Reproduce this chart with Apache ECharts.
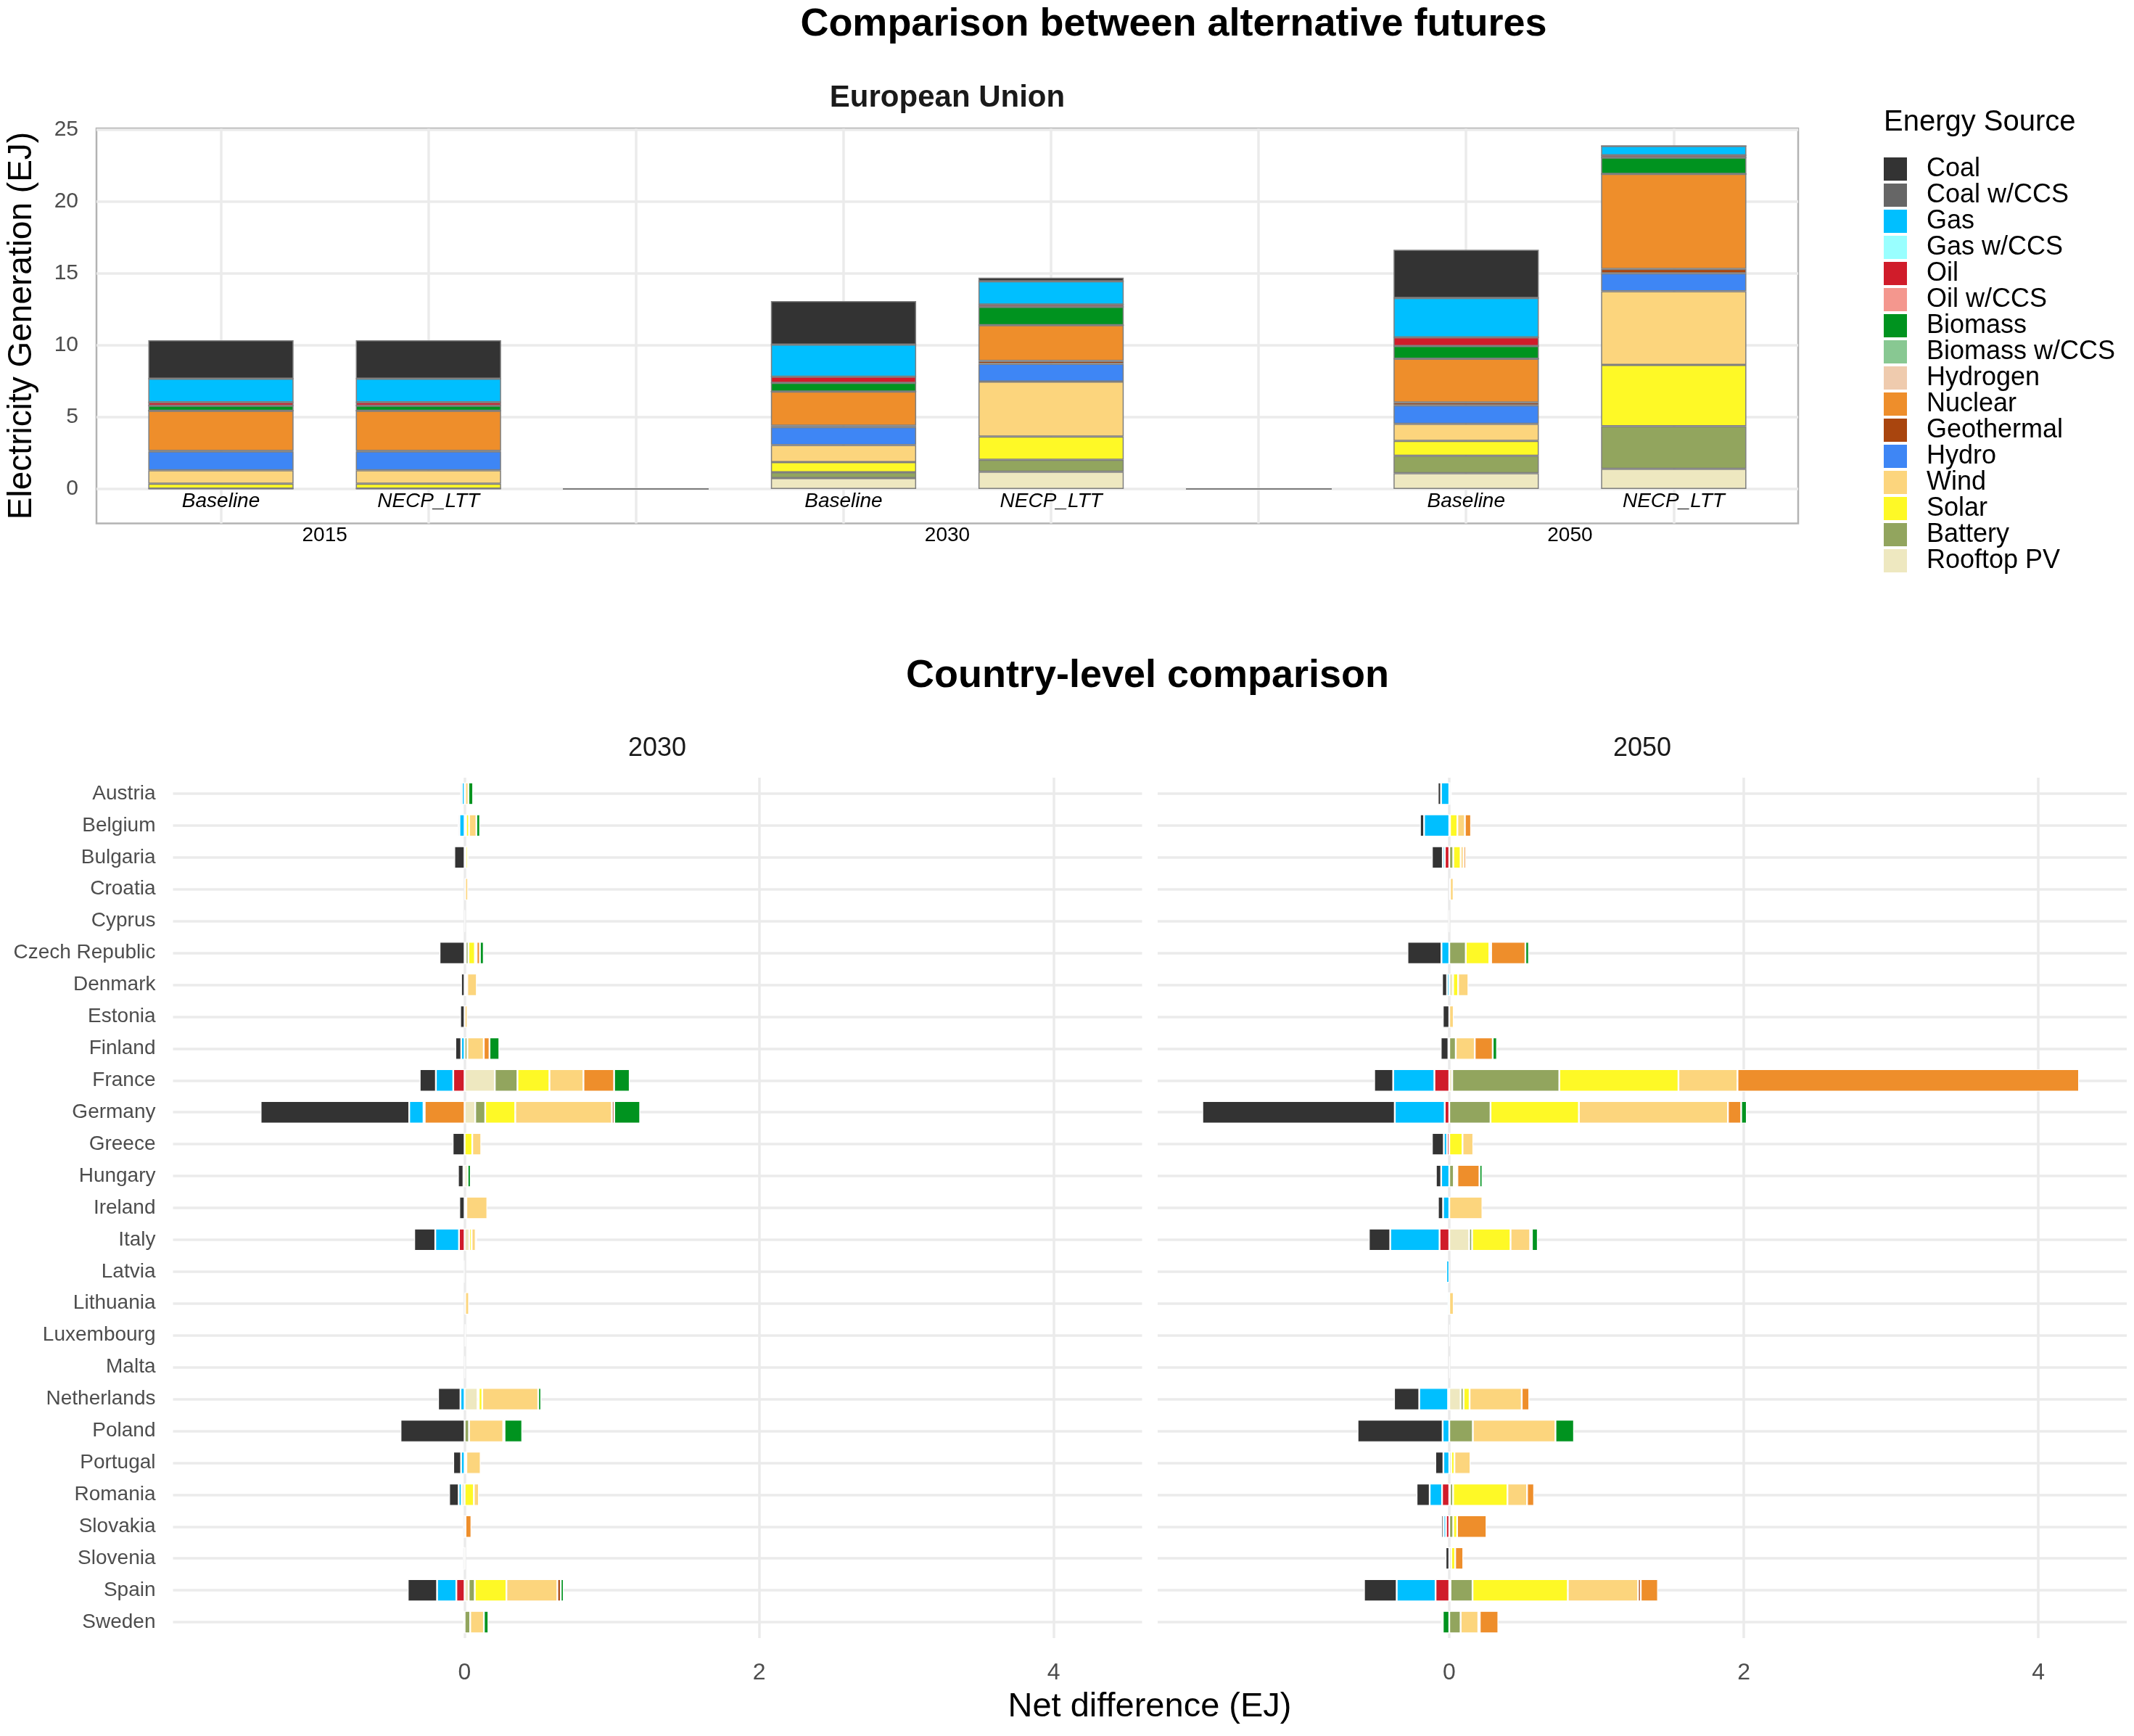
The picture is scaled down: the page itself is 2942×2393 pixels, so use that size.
<!DOCTYPE html>
<html><head><meta charset="utf-8">
<script src="https://cdn.jsdelivr.net/npm/echarts@6/dist/echarts.min.js"></script>
<style>html,body{margin:0;padding:0;background:#fff}#c{width:2942px;height:2393px}</style>
</head><body><div id="c"></div>
<script>
// ---------- text ----------
const mainTitle = 'Comparison between alternative futures';
const topTitle = 'European Union';
const bottomTitle = 'Country-level comparison';
const yTitleTop = 'Electricity Generation (EJ)';
const xTitleBottom = 'Net difference (EJ)';
const legendTitle = 'Energy Source';

// ---------- legend / colours ----------
const sources = ['Coal','Coal w/CCS','Gas','Gas w/CCS','Oil','Oil w/CCS','Biomass','Biomass w/CCS','Hydrogen','Nuclear','Geothermal','Hydro','Wind','Solar','Battery','Rooftop PV'];
const colors  = ['#333333','#666666','#00BFFF','#99FFFF','#D01C2A','#F4978E','#00931F','#88C892','#EFCBAE','#EE8E2B','#A9450E','#3E86F5','#FCD57D','#FEF926','#92A55E','#EEE8C0'];

// ---------- top chart (EU) ----------
const topCats  = ['Baseline','NECP_LTT','','Baseline','NECP_LTT','','Baseline','NECP_LTT'];
const topYears = ['2015','2030','2050'];
const euCoal       = [2.67, 2.67, 0, 3.03, 0.26, 0, 3.35, 0];
const euCoalCCS    = [0, 0, 0, 0, 0, 0, 0, 0];
const euGas        = [1.64, 1.64, 0, 2.23, 1.61, 0, 2.75, 0.65];
const euGasCCS     = [0, 0, 0, 0, 0, 0, 0, 0];
const euOil        = [0.24, 0.24, 0, 0.44, 0.16, 0, 0.60, 0.16];
const euOilCCS     = [0, 0, 0, 0, 0, 0, 0, 0];
const euBiomass    = [0.36, 0.36, 0, 0.60, 1.28, 0, 0.88, 1.14];
const euBiomassCCS = [0, 0, 0, 0, 0, 0, 0, 0];
const euHydrogen   = [0, 0, 0, 0, 0, 0, 0, 0];
const euNuclear    = [2.79, 2.79, 0, 2.37, 2.49, 0, 3.05, 6.62];
const euGeothermal = [0.04, 0.04, 0, 0.10, 0.20, 0, 0.20, 0.30];
const euHydro      = [1.31, 1.31, 0, 1.26, 1.23, 0, 1.29, 1.25];
const euWind       = [0.94, 0.94, 0, 1.18, 3.83, 0, 1.18, 5.13];
const euSolar      = [0.34, 0.34, 0, 0.71, 1.62, 0, 1.04, 4.26];
const euBattery    = [0, 0, 0, 0.40, 0.83, 0, 1.21, 2.97];
const euRooftop    = [0.02, 0.02, 0, 0.76, 1.20, 0, 1.10, 1.40];
const euData = [euCoal, euCoalCCS, euGas, euGasCCS, euOil, euOilCCS, euBiomass, euBiomassCCS, euHydrogen, euNuclear, euGeothermal, euHydro, euWind, euSolar, euBattery, euRooftop];

// ---------- bottom chart (countries) ----------
const countries = ['Austria','Belgium','Bulgaria','Croatia','Cyprus','Czech Republic','Denmark','Estonia','Finland','France','Germany','Greece','Hungary','Ireland','Italy','Latvia','Lithuania','Luxembourg','Malta','Netherlands','Poland','Portugal','Romania','Slovakia','Slovenia','Spain','Sweden'];
const panelYears = ['2030','2050'];

const coal2030 = [-0.012,-0.012,-0.07,0,0,-0.17,-0.024,-0.03,-0.04,-0.11,-1.009,-0.081,-0.037,-0.036,-0.143,0,0,0,0,-0.152,-0.435,-0.053,-0.065,-0.012,-0.012,-0.199,0];
const gas2030 = [-0.018,-0.035,0,0,0,0,0,0,-0.023,-0.118,-0.097,0,-0.008,0,-0.161,-0.006,0,0,0,-0.028,0,-0.024,-0.02,0,0,-0.131,0];
const oil2030 = [0,0,0,0,0,0,0,0,0,-0.077,-0.008,0,0,0,-0.038,0,0,0,0,0,0,0,0,0,0,-0.056,0];
const biomass2030 = [0.032,0.025,0,0,0,0.026,0,0,0.067,0.106,0.176,0,0.022,0,0.009,0,0,0,0,0.02,0.12,0,0,0,0,0.02,0.031];
const nuclear2030 = [0,0,0,0,0,0.022,0,0,0.039,0.208,-0.271,0,0,0,0,0,0,0,0,0,0,0,0,0.04,0,0,-0.01];
const geothermal2030 = [0,0,0,0,0,0,0,0,0,0,0.016,0,0,0,0,0,0,0,0,0,0.009,0,0,0,0,0.023,0];
const wind2030 = [0.022,0.05,0.004,0.02,0,0.012,0.065,0.02,0.111,0.231,0.656,0.061,0,0.142,0.027,0,0.026,0,0,0.38,0.232,0.097,0.034,0,0,0.346,0.093];
const solar2030 = [0,0.02,0.014,0,0,0.044,0.006,0,0,0.217,0.204,0.052,0,0,0.016,0,0,0,0,0.024,0,0,0.063,0,0.006,0.215,0];
const battery2030 = [0,0,0.008,0,0,0.018,0,0,0.019,0.154,0.068,0,0,0,0,0,0,0,0,0.008,0.03,0,0,0,0,0.041,0.038];
const rooftop2030 = [0.004,0.01,0,0.004,0.003,0.008,0.012,0,0,0.205,0.072,0,0.02,0.012,0.032,0,0.004,0.008,0.003,0.088,0,0.012,-0.02,0.006,0,0.028,0];

const coal2050 = [-0.022,-0.028,-0.074,0,0,-0.231,-0.034,-0.044,-0.052,-0.129,-1.307,-0.081,-0.036,-0.035,-0.145,0,0,0,0,-0.171,-0.578,-0.055,-0.089,-0.015,-0.025,-0.222,0];
const gas2050 = [-0.056,-0.171,-0.014,0,0,-0.053,-0.015,0,-0.006,-0.28,-0.339,-0.022,-0.055,-0.042,-0.335,-0.02,-0.012,0,0,-0.196,-0.045,-0.04,-0.084,-0.016,0,-0.264,-0.012];
const oil2050 = [0,0,-0.03,0,-0.004,0,0,0,0,-0.101,-0.031,-0.015,0,0,-0.066,0,0,0,0,-0.008,0,0,-0.049,-0.022,0,-0.093,0];
const biomass2050 = [0,0,0,0,0,0.024,0,0,0.029,0,0.038,0,0.02,0,0.04,0,0,0,0,0,0.126,0,0,0,0,0,-0.044];
const nuclear2050 = [0,0.042,0.016,0,0,0.233,0,0,0.122,2.319,0.09,0,0.15,0,0,0,0,0,0,0.051,0,0,0.048,0.2,0.055,0.117,0.126];
const geothermal2050 = [0,0,0,0,0,0,0,0,0,0,0,0,0,0,0.012,0,0,0,0,0,0,0,0,0,0,0.018,0.01];
const wind2050 = [0.01,0.051,0.02,0.024,0,0.012,0.07,0.03,0.129,0.401,1.012,0.073,0.012,0.225,0.133,0,0.03,0,0,0.354,0.561,0.109,0.133,0,0,0.477,0.12];
const solar2050 = [0.007,0.05,0.05,0,0,0.16,0.034,0,0,0.809,0.6,0.09,0.012,0,0.261,0,0,0,0,0.041,0,0.022,0.369,0.026,0.027,0.647,0];
const battery2050 = [0,0,0.027,0,0,0.112,0,0,0.044,0.727,0.28,0,0.031,0,0.02,0,0,0,0,0.02,0.16,0.013,0.021,0.027,0.013,0.15,0.077];
const rooftop2050 = [0,0.005,0,0.005,0,0,0.026,0,0,0.02,0,0,0,0,0.135,0,0,0.003,0.003,0.077,0,0,0.005,0,0,0.008,0];

const countrySeries = [
  ['Coal', coal2030, coal2050],
  ['Gas', gas2030, gas2050],
  ['Oil', oil2030, oil2050],
  ['Biomass', biomass2030, biomass2050],
  ['Nuclear', nuclear2030, nuclear2050],
  ['Geothermal', geothermal2030, geothermal2050],
  ['Wind', wind2030, wind2050],
  ['Solar', solar2030, solar2050],
  ['Battery', battery2030, battery2050],
  ['Rooftop PV', rooftop2030, rooftop2050]
];

// ---------- build ----------
const FONT = '"Liberation Sans", Arial, Helvetica, sans-serif';
const GRID_LINE = {show: true, lineStyle: {color: '#EBEBEB', width: 3.5}, showMinLine: false, showMaxLine: false};
const colorOf = n => colors[sources.indexOf(n)];
const nz = arr => arr.map(v => (v === 0 ? null : v));

const series = [];
// top stacked bars, stacking order = reverse legend order
for (let k = sources.length - 1; k >= 0; k--) {
  series.push({
    type: 'bar', name: sources[k], xAxisIndex: 1, yAxisIndex: 1, stack: 'eu',
    barWidth: '70%', data: euData[k],
    itemStyle: {color: colors[k], borderColor: '#7F7F7F', borderWidth: 1.5}
  });
}
// bottom panels
const orderIdx = n => sources.length - 1 - sources.indexOf(n);
const sortedCS = countrySeries.slice().sort((a, b) => orderIdx(a[0]) - orderIdx(b[0]));
[0, 1].forEach(p => {
  sortedCS.forEach(cs => {
    series.push({
      type: 'bar', name: cs[0], xAxisIndex: 3 + p, yAxisIndex: p === 0 ? 3 : 5,
      stack: 'c' + p, stackStrategy: 'samesign', barWidth: '70%',
      data: nz(p === 0 ? cs[1] : cs[2]),
      itemStyle: {color: colorOf(cs[0]), borderColor: '#FFFFFF', borderWidth: 1.2}
    });
  });
});

const yearSlots = Array.from({length: 17}, (_, j) => String(j));
const yearAt = j => ((j - 2) % 6 === 0 && j >= 2) ? topYears[(j - 2) / 6] : '';

const option = {
  animation: false,
  backgroundColor: '#FFFFFF',
  textStyle: {fontFamily: FONT},
  grid: [
    {left: 133, top: 177, width: 2346, height: 544.5, show: true, borderColor: '#B3B3B3', borderWidth: 2.5, backgroundColor: 'transparent'},
    {left: 161.5, top: 177, width: 2289, height: 544.5},
    {left: 238.5, top: 1072, width: 1336, height: 1186},
    {left: 1596, top: 1072, width: 1336, height: 1186},
    {left: 161.5, top: 177, width: 2289, height: 544.5}
  ],
  xAxis: [
    {gridIndex: 0, type: 'value', min: -0.6, max: 7.6, minInterval: 1, maxInterval: 1,
     axisLine: {show: false}, axisTick: {show: false}, axisLabel: {show: false}, splitLine: GRID_LINE},
    {gridIndex: 1, type: 'category', data: topCats.map((c, i) => String(i)), boundaryGap: true,
     axisLine: {show: false}, axisTick: {show: false}, splitLine: {show: false},
     axisLabel: {inside: true, interval: 0, margin: 16, fontSize: 28, fontStyle: 'italic', color: '#000',
                 formatter: (v, i) => topCats[i]}},
    {gridIndex: 4, type: 'category', data: yearSlots, boundaryGap: false,
     axisLine: {show: false}, axisTick: {show: false}, splitLine: {show: false},
     axisLabel: {interval: 0, margin: 3, fontSize: 28, color: '#000', formatter: (v, i) => yearAt(i)}},
    {gridIndex: 2, type: 'value', min: -1.98, max: 4.6, minInterval: 2, maxInterval: 2,
     axisLine: {show: false}, axisTick: {show: false}, splitLine: GRID_LINE,
     axisLabel: {fontSize: 32, color: '#4D4D4D', margin: 32, formatter: v => (Math.abs(v % 2) < 1e-9 ? String(v) : '')}},
    {gridIndex: 3, type: 'value', min: -1.98, max: 4.6, minInterval: 2, maxInterval: 2,
     axisLine: {show: false}, axisTick: {show: false}, splitLine: GRID_LINE,
     axisLabel: {fontSize: 32, color: '#4D4D4D', margin: 32, formatter: v => (Math.abs(v % 2) < 1e-9 ? String(v) : '')}}
  ],
  yAxis: [
    {gridIndex: 0, type: 'value', min: -2.4, max: 25.1, minInterval: 5, maxInterval: 5,
     axisLine: {show: false}, axisTick: {show: false}, splitLine: GRID_LINE,
     axisLabel: {fontSize: 30, color: '#4D4D4D', margin: 25, formatter: v => (Math.abs(v % 5) < 1e-9 ? String(v) : '')}},
    {gridIndex: 1, type: 'value', min: -2.4, max: 25.1, show: false},
    {gridIndex: 4, type: 'value', min: -2.4, max: 25.1, show: false},
    {gridIndex: 2, type: 'category', data: countries, inverse: true,
     axisLine: {show: false}, axisTick: {show: false}, splitLine: {show: false},
     axisLabel: {interval: 0, fontSize: 28, color: '#4D4D4D', margin: 24}},
    {gridIndex: 2, type: 'value', min: -0.5, max: 26.5, inverse: true, minInterval: 1, maxInterval: 1,
     axisLine: {show: false}, axisTick: {show: false}, axisLabel: {show: false}, splitLine: GRID_LINE},
    {gridIndex: 3, type: 'category', data: countries, inverse: true,
     axisLine: {show: false}, axisTick: {show: false}, splitLine: {show: false}, axisLabel: {show: false}},
    {gridIndex: 3, type: 'value', min: -0.5, max: 26.5, inverse: true, minInterval: 1, maxInterval: 1,
     axisLine: {show: false}, axisTick: {show: false}, axisLabel: {show: false}, splitLine: GRID_LINE}
  ],
  legend: {
    data: sources, orient: 'vertical', left: 2597, top: 215, padding: 0,
    itemWidth: 32, itemHeight: 32, itemGap: 0, icon: 'rect', selectedMode: false,
    itemStyle: {borderWidth: 0},
    textStyle: {fontSize: 36, color: '#000', lineHeight: 32, padding: [0, 0, 0, 22], fontFamily: FONT}
  },
  graphic: [
    {type: 'text', x: 1618, y: 34, style: {text: mainTitle, fill: '#000', font: 'bold 54px ' + FONT, align: 'center', verticalAlign: 'middle', textAlign: 'center', textVerticalAlign: 'middle'}},
    {type: 'text', x: 1306, y: 135, style: {text: topTitle, fill: '#1A1A1A', font: 'bold 42px ' + FONT, align: 'center', verticalAlign: 'middle', textAlign: 'center', textVerticalAlign: 'middle'}},
    {type: 'text', x: 30, y: 449, rotation: Math.PI / 2, style: {text: yTitleTop, fill: '#000', font: '46px ' + FONT, align: 'center', verticalAlign: 'middle', textAlign: 'center', textVerticalAlign: 'middle'}},
    {type: 'text', x: 2597, y: 169, style: {text: legendTitle, fill: '#000', font: '40px ' + FONT, align: 'left', verticalAlign: 'middle', textAlign: 'left', textVerticalAlign: 'middle'}},
    {type: 'text', x: 1582, y: 932, style: {text: bottomTitle, fill: '#000', font: 'bold 54px ' + FONT, align: 'center', verticalAlign: 'middle', textAlign: 'center', textVerticalAlign: 'middle'}},
    {type: 'text', x: 906, y: 1032, style: {text: panelYears[0], fill: '#1A1A1A', font: '36px ' + FONT, align: 'center', verticalAlign: 'middle', textAlign: 'center', textVerticalAlign: 'middle'}},
    {type: 'text', x: 2264, y: 1032, style: {text: panelYears[1], fill: '#1A1A1A', font: '36px ' + FONT, align: 'center', verticalAlign: 'middle', textAlign: 'center', textVerticalAlign: 'middle'}},
    {type: 'text', x: 1585, y: 2353, style: {text: xTitleBottom, fill: '#000', font: '47px ' + FONT, align: 'center', verticalAlign: 'middle', textAlign: 'center', textVerticalAlign: 'middle'}}
  ],
  series: series
};

const chart = echarts.init(document.getElementById('c'), null, {renderer: 'canvas', width: 2942, height: 2393});
chart.setOption(option);
</script>
</body></html>
